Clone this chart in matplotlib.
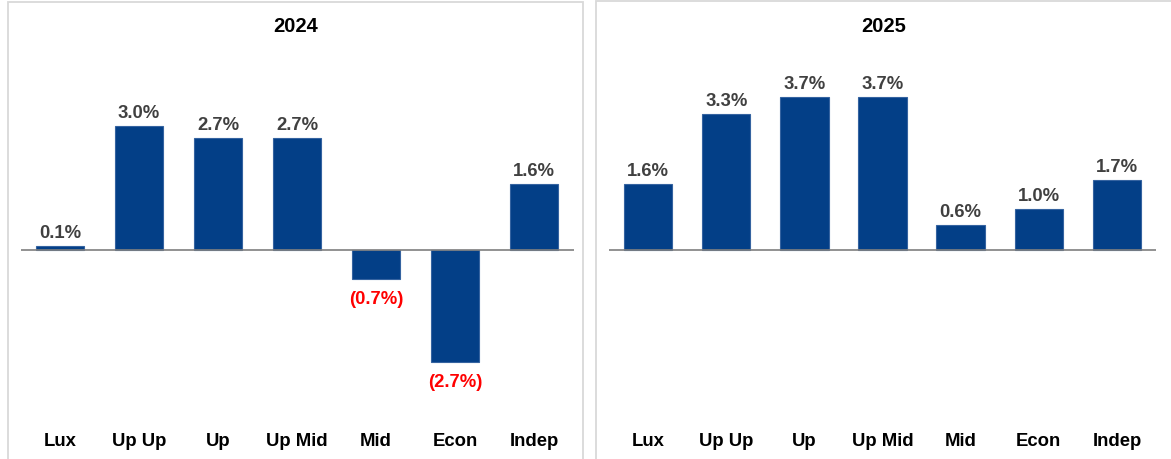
import matplotlib
matplotlib.use("Agg")
import matplotlib.pyplot as plt
from matplotlib.patches import Rectangle

categories = ["Lux", "Up Up", "Up", "Up Mid", "Mid", "Econ", "Indep"]
values_2024 = [0.1, 3.0, 2.7, 2.7, -0.7, -2.7, 1.6]
values_2025 = [1.6, 3.3, 3.7, 3.7, 0.6, 1.0, 1.7]
titles = ["2024", "2025"]

plt.rcParams['font.family'] = ['Liberation Sans', 'DejaVu Sans']

W, H = 1171, 460
fig = plt.figure(figsize=(W / 100, H / 100), dpi=100)
fig.patch.set_facecolor("white")

def px_axes(x0, x1, ytop, ybot):
    return fig.add_axes([x0 / W, 1 - ybot / H, (x1 - x0) / W, (ybot - ytop) / H])

bar_color = "#033F87"
edge_color = "#3563A0"
label_color = "#404040"
neg_color = "#FF0000"

# panel borders
for (x0, x1, y0) in [(8, 583, 3), (596, 1185, 2)]:
    fig.patches.append(Rectangle((x0 / W, -0.05), (x1 - x0) / W, 1.05 - y0 / H,
                                 transform=fig.transFigure, fill=False,
                                 edgecolor="#D9D9D9", linewidth=1.3))

scale = 41.3  # px per percent
baseline_px = 251
ytop, ybot = 50, 420
ylim = (-(ybot - baseline_px) / scale, (baseline_px - ytop) / scale)

fs = 13.3
panels = [((20.5, 573.5), values_2024, 296), ((609, 1156), values_2025, 884)]
for (xr, vals, tx), title in zip(panels, titles):
    ax = px_axes(xr[0], xr[1], ytop, ybot)
    x = list(range(len(categories)))
    ax.bar(x, vals, width=0.62, color=bar_color, edgecolor=edge_color, linewidth=0.8, zorder=2)
    ax.axhline(0, color="#7F7F7F", linewidth=1.2, zorder=3)
    ax.set_xlim(-0.5, 6.5)
    ax.set_ylim(*ylim)
    ax.set_xticks(x)
    ax.set_xticklabels(categories, fontsize=fs, fontweight="bold", color="black")
    ax.tick_params(axis="x", length=0, pad=9.5)
    ax.set_yticks([])
    for s in ax.spines.values():
        s.set_visible(False)
    ax.patch.set_alpha(0)
    for xi, v in zip(x, vals):
        if v >= 0:
            ax.annotate(f"{v:.1f}%", (xi, v), xytext=(0, 6.5), textcoords="offset points",
                        ha="center", va="baseline", fontsize=fs, fontweight="bold",
                        color=label_color)
        else:
            ax.annotate(f"({abs(v):.1f}%)", (xi, v), xytext=(0, -17.5), textcoords="offset points",
                        ha="center", va="baseline", fontsize=fs, fontweight="bold",
                        color=neg_color)
    fig.text(tx / W, 1 - 27 / H, title, ha="center", va="center", fontsize=14.5,
             fontweight="bold", color="black")

fig.savefig("out.png", dpi=100, facecolor="white")
